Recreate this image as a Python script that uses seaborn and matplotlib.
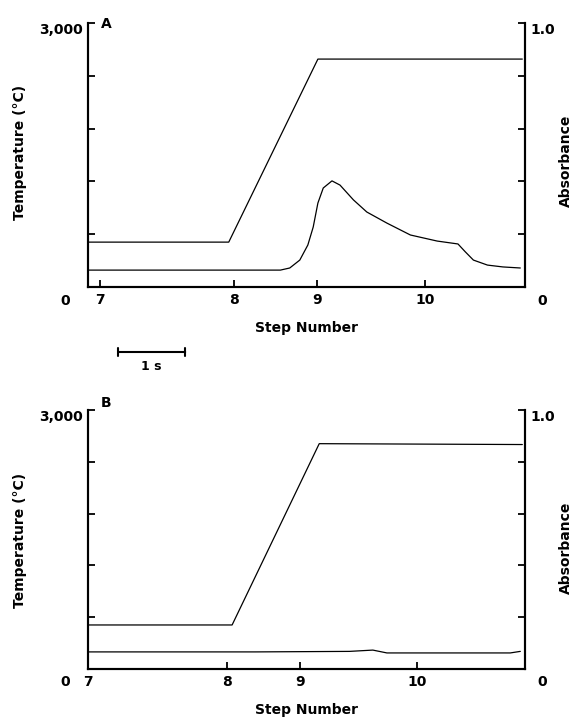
import numpy as np
import pandas as pd
import matplotlib
matplotlib.use("Agg")
import matplotlib.pyplot as plt
import seaborn as sns

# ---- data (time in seconds from the left axis) ----
step_labels = ["7", "8", "9", "10"]
stepA_t = [0.18, 2.18, 3.42, 5.03]
stepB_t = [0.0, 2.07, 3.16, 4.91]
x_max = 6.52

tempA_t = [0.0, 2.10, 3.43, 6.48]
tempA_v = [510, 510, 2590, 2590]
tempB_t = [0.0, 2.15, 3.45, 6.48]
tempB_v = [510, 510, 2610, 2600]

absA_t = [0.0, 2.87, 3.01, 3.16, 3.28, 3.36, 3.43, 3.51, 3.64, 3.76, 3.96, 4.16,
          4.46, 4.81, 5.21, 5.52, 5.63, 5.75, 5.96, 6.19, 6.45]
absA_v = [0.064, 0.064, 0.072, 0.102, 0.159, 0.227, 0.318, 0.375, 0.402, 0.386, 0.330, 0.284,
          0.242, 0.197, 0.174, 0.163, 0.133, 0.102, 0.083, 0.076, 0.072]
absB_t = [0.0, 2.5, 3.9, 4.25, 4.46, 6.30, 6.45]
absB_v = [0.066, 0.066, 0.068, 0.073, 0.062, 0.062, 0.068]

temp_ticks = [0, 600, 1200, 1800, 2400, 3000]
abs_ticks = [0, 0.2, 0.4, 0.6, 0.8, 1.0]

sns.set_theme(style="white")
plt.rcParams["font.family"] = ["DejaVu Sans"]
plt.rcParams["font.weight"] = "bold"
for k in ("text.color", "axes.labelcolor", "xtick.color", "ytick.color", "axes.edgecolor"):
    plt.rcParams[k] = "black"

fig = plt.figure(figsize=(5.72, 7.21), dpi=100)
axA = fig.add_axes([88/572, 1-287/721, 437/572, 264/721])
axB = fig.add_axes([88/572, 1-669/721, 437/572, 259/721])

FS = 10
LW_SP = 1.5

def style_panel(ax, steps, t_t, t_v, a_t, a_v, letter, letter_y, tlab_y, alab_y, h):
    ax2 = ax.twinx()
    sns.lineplot(x=t_t, y=t_v, ax=ax, color="black", lw=0.9, estimator=None)
    sns.lineplot(x=a_t, y=a_v, ax=ax2, color="black", lw=0.9, estimator=None)
    ax.set_xlim(0, x_max)
    ax.set_ylim(0, 3000)
    ax2.set_ylim(0, 1.0)
    for a in (ax, ax2):
        for s in a.spines.values():
            s.set_linewidth(LW_SP)
            s.set_color("black")
        a.spines["top"].set_visible(False)
    ax.set_xticks(steps)
    ax.set_xticklabels(step_labels, fontsize=FS, fontweight="bold")
    ax.set_yticks(temp_ticks)
    ax.set_yticklabels(["", "", "", "", "", "3,000"], fontsize=FS, fontweight="bold")
    ax2.set_yticks(abs_ticks)
    ax2.set_yticklabels(["", "", "", "", "", "1.0"], fontsize=FS, fontweight="bold")
    ax.tick_params(axis="x", direction="in", length=5, width=1.3, pad=4.5, bottom=True, colors="black")
    ax.tick_params(axis="y", direction="in", length=5, width=1.3, pad=4, left=True, colors="black")
    ax2.tick_params(axis="y", direction="in", length=5, width=1.3, pad=4, right=True, colors="black")
    ax.get_yticklabels()[-1].set_va("top")
    ax2.get_yticklabels()[-1].set_va("top")
    zy = -13.5 / h
    ax.text(-0.053, zy, "0", transform=ax.transAxes, ha="center", va="center",
            fontsize=FS, fontweight="bold", color="black")
    ax.text(1.039, zy, "0", transform=ax.transAxes, ha="center", va="center",
            fontsize=FS, fontweight="bold", color="black")
    ax.set_xlabel("Step Number", fontsize=FS, fontweight="bold", color="black")
    ax.xaxis.set_label_coords(0.5, -34.0 / h)
    ax.set_ylabel("Temperature (\u00b0C)", fontsize=FS, fontweight="bold", color="black")
    ax.yaxis.set_label_coords(-0.14, tlab_y)
    ax2.set_ylabel("Absorbance", fontsize=FS, fontweight="bold", rotation=90, color="black")
    ax2.yaxis.set_label_coords(1.078, alab_y)
    ax.text(0.041, letter_y, letter, transform=ax.transAxes, ha="center", va="center",
            fontsize=FS, fontweight="bold", color="black")
    ax.grid(False)
    ax2.grid(False)
    return ax2

style_panel(axA, stepA_t, tempA_t, tempA_v, absA_t, absA_v, "A", 0.996, 0.51, 0.477, 264)
style_panel(axB, stepB_t, tempB_t, tempB_v, absB_t, absB_v, "B", 1.027, 0.498, 0.467, 259)

# 1 s scale bar below panel A
bar_y = (287 - 352) / 264
axA.annotate("", xy=(1.45, bar_y), xytext=(0.45, bar_y),
             xycoords=("data", "axes fraction"), textcoords=("data", "axes fraction"),
             arrowprops=dict(arrowstyle="|-|, widthA=0.25, widthB=0.25", lw=1.5, color="black",
                             shrinkA=0, shrinkB=0))
axA.text(0.95, (287 - 366) / 264, "1 s", transform=axA.get_xaxis_transform(),
         ha="center", va="center", fontsize=9, fontweight="bold", color="black")

fig.savefig("out.png", dpi=100)
